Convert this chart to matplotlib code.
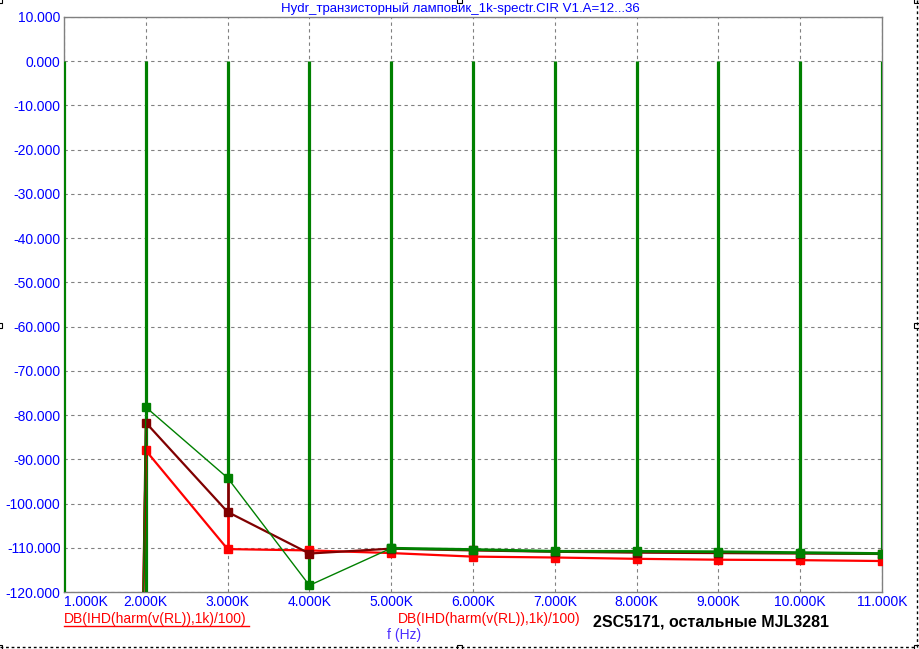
import matplotlib.pyplot as plt
from matplotlib.lines import Line2D
from matplotlib.patches import Rectangle

plt.rcParams['font.family'] = ['Liberation Sans', 'DejaVu Sans']

# harmonic frequencies, kHz
harm_k = [1, 2, 3, 4, 5, 6, 7, 8, 9, 10, 11]
# bottom of the green spectrum stems (top is 0 dB)
stem_db = [-120, -120, -94.2, -118.5, -110.1, -110.4, -110.8, -110.8, -110.9, -111.1, -111.3]

# curve samples: first sample is the rise from the bottom just before 2K
curve_f = [1.97, 2, 3, 4, 5, 6, 7, 8, 9, 10, 11]
green_db = [-120, -78.2, -94.2, -118.5, -110.1, -110.4, -110.8, -110.8, -110.9, -111.1, -111.3]
maroon_db = [-120, -81.7, -101.9, -111.3, -110.2, -110.6, -110.9, -111.1, -111.2, -111.3, -111.4]
red_db = [-120, -88.0, -110.3, -110.6, -111.2, -112.0, -112.2, -112.5, -112.7, -112.8, -113.0]

yticks = list(range(-120, 11, 10))
title = 'Hydr_транзисторный ламповик_1k-spectr.CIR V1.A=12...36'
trace_name = 'DB(IHD(harm(v(RL)),1k)/100)'
note = '2SC5171, остальные MJL3281'

W, H = 920, 649
fig = plt.figure(figsize=(W / 100, H / 100), dpi=100)
ax = fig.add_axes([64 / W, 1 - 592 / H, (882 - 64) / W, (592 - 17) / H])
ax.set_xlim(1, 11)
ax.set_ylim(-120, 10)

ax.grid(True, color='#808080', linestyle=(0, (3, 3)), linewidth=0.8)
ax.set_axisbelow(True)
for s in ax.spines.values():
    s.set_color('#808080')
    s.set_linewidth(1)

# green spectrum stems
ax.vlines(harm_k, stem_db, 0, color='#008000', linewidth=2.3, zorder=3)
# stems of the other traces at the harmonics (hidden under green where green is lower)
ax.vlines(curve_f[1:], green_db[1:], maroon_db[1:], color='#800000', linewidth=2, zorder=2)
ax.vlines(curve_f[1:], maroon_db[1:], red_db[1:], color='#ff0000', linewidth=2, zorder=2)

mk = dict(marker='s', markersize=5.5, markevery=list(range(1, len(curve_f))))
ax.plot(curve_f, red_db, color='#ff0000', linewidth=1.6, zorder=4, **mk)
ax.plot(curve_f, maroon_db, color='#800000', linewidth=1.6, zorder=5, **mk)
ax.plot(curve_f[:5], green_db[:5], color='#008000', linewidth=1.0, zorder=6,
        marker='s', markersize=5.5, markevery=[1, 2, 3, 4])
ax.plot(curve_f[4:], green_db[4:], color='#008000', linewidth=2.0, zorder=6,
        marker='s', markersize=5.5)

ax.set_yticks(yticks)
ax.set_yticklabels([f'{v:.3f}' for v in yticks], color='blue', fontsize=10)
ax.set_xticks(harm_k)
ax.set_xticklabels([f'{v:.3f}K' for v in harm_k], color='blue', fontsize=10)
ax.get_xticklabels()[0].set_horizontalalignment('left')
ax.tick_params(length=0, pad=2.5)

fig.text(460 / W, 1 - 9 / H, title, color='blue', fontsize=9.5, ha='center', va='center')
fig.text(64 / W, 1 - 619 / H, trace_name, color='red', fontsize=10, va='center')
fig.add_artist(Line2D([64 / W, 249 / W], [1 - 625.5 / H, 1 - 625.5 / H], color='red', linewidth=1))
fig.text(398 / W, 1 - 619 / H, trace_name, color='red', fontsize=10, va='center')
fig.text(404.5 / W, 1 - 635 / H, 'f (Hz)', color='#4a2cff', fontsize=10, ha='center', va='center')
fig.text(593 / W, 1 - 622 / H, note, color='black', fontsize=11.5, fontweight='bold', va='center')

# selection frame of the plot window
fig.add_artist(Line2D([917 / W, 917 / W], [1 - 647 / H, 1], color='black', linewidth=1, linestyle=(0, (2, 2))))
fig.add_artist(Line2D([0, 917 / W], [1 - 647 / H, 1 - 647 / H], color='black', linewidth=1, linestyle=(0, (2, 2))))
for hx, hy in [(0, 0), (460, 0), (917, 0), (0, 325), (917, 325), (0, 647), (460, 647), (917, 647)]:
    fig.add_artist(Rectangle(((hx - 2.5) / W, 1 - (hy + 2.5) / H), 5 / W, 5 / H,
                             transform=fig.transFigure, facecolor='white', edgecolor='black', linewidth=0.8))

fig.savefig('out.png', dpi=100)
